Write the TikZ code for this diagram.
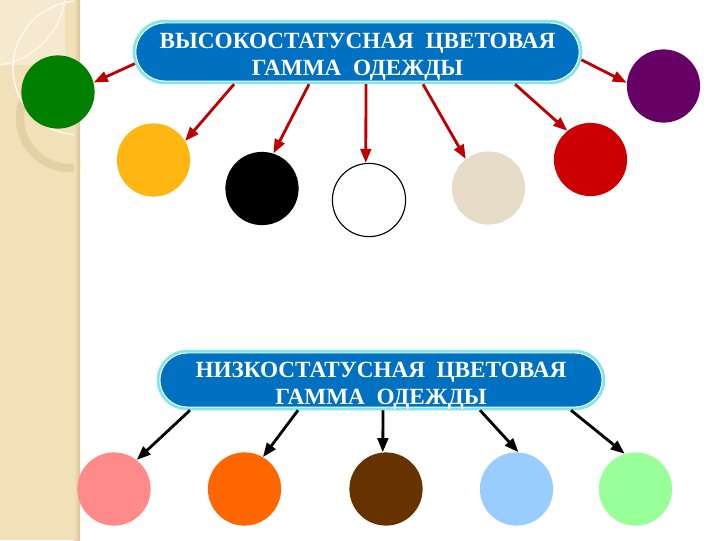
\documentclass[tikz,border=0pt]{standalone}
\usepackage{fontspec}
\setmainfont{Liberation Serif}
\usepackage{tikz}
\usetikzlibrary{arrows.meta,positioning,shapes.misc,calc}
\definecolor{gmblue}{RGB}{0,112,192}
\definecolor{gmcyan}{RGB}{128,230,230}
\definecolor{gmarrow}{RGB}{192,0,0}
\definecolor{gmgreen}{RGB}{0,128,0}
\definecolor{gmamber}{RGB}{255,182,17}
\definecolor{gmbeige}{RGB}{230,220,200}
\definecolor{gmred}{RGB}{204,0,0}
\definecolor{gmpurple}{RGB}{102,0,102}
\definecolor{gmpink}{RGB}{255,138,138}
\definecolor{gmorange}{RGB}{255,102,0}
\definecolor{gmbrown}{RGB}{102,51,0}
\definecolor{gmsky}{RGB}{153,204,255}
\definecolor{gmmint}{RGB}{153,255,153}
\definecolor{gmstrip}{RGB}{241,224,184}
\definecolor{gmstriplight}{RGB}{245,233,208}
\definecolor{gmstripdark}{RGB}{214,196,152}
\definecolor{gmring}{RGB}{226,208,166}
\tikzset{
  banner/.style={rounded rectangle, fill=gmblue, draw=white, line width=0.7pt,
    preaction={draw=gmcyan, line width=4.6pt}, outer sep=2.3pt, inner sep=0pt},
  bannertext/.style={text=white, align=center, inner sep=0pt,
    font=\fontsize{16.5}{19.5}\selectfont\bfseries},
  swatch/.style={circle, minimum size=1.83cm, inner sep=0pt},
  hiarrow/.style={-{Triangle[length=10pt,width=7.5pt]}, line width=2pt, gmarrow},
  loarrow/.style={-{Triangle[length=10pt,width=7.5pt]}, line width=2pt, black}
}
\begin{document}
\begin{tikzpicture}[x=0.025cm, y=-0.025cm]
  \useasboundingbox (0,0) rectangle (720,540);

  %% Left strip
  \fill[gmstrip] (0,0) rectangle (80,540);
  \begin{scope}
    \clip (0,0) rectangle (80,540);
    \fill[gmstriplight] (0,0) rectangle (65,65);
    \draw[gmring, line width=6pt] (70,118) circle (50);
    \draw[white!75!gmstrip, line width=1.2pt] (80,68) circle (67);
    \draw[white!75!gmstrip, line width=1pt] (-12,-12) circle (78);
    \shade[left color=gmstrip, right color=gmstripdark] (74,0) rectangle (80,540);
  \end{scope}

  %% Banners
  \node[banner, minimum width=11.08cm, minimum height=1.45cm] (hi) at (357.5,52) {};
  \node[bannertext] (hitext) at ($(hi.center)+(0,5)$)
    {ВЫСОКОСТАТУСНАЯ\ \ ЦВЕТОВАЯ\\ГАММА\ \ ОДЕЖДЫ};
  \node[banner, minimum width=11.05cm, minimum height=1.35cm] (lo) at (381,380) {};
  \node[bannertext] (lotext) at ($(lo.center)+(0,5.5)$)
    {НИЗКОСТАТУСНАЯ\ \ ЦВЕТОВАЯ\\ГАММА\ \ ОДЕЖДЫ};

  %% High status colours
  \node[swatch, fill=gmgreen] (green) at (58,92) {};
  \node[swatch, fill=gmamber] (amber) at (153.5,160) {};
  \node[swatch, fill=black] (black) at (262,188.5) {};
  \node[swatch, fill=white, draw=black, line width=0.8pt] (white) at (369,200) {};
  \node[swatch, fill=gmbeige] (beige) at (488.5,188) {};
  \node[swatch, fill=gmred] (red) at (590.5,159.5) {};
  \node[swatch, fill=gmpurple] (purple) at (663.5,86) {};

  \draw[hiarrow] (hi.183) -- (green.15);
  \draw[hiarrow] ($(hi.south)+(-123.5,0)$) -- (amber.31);
  \draw[hiarrow] ($(hi.south)+(-48.5,0)$) -- (black.72);
  \draw[hiarrow] ($(hi.south)+(8.5,0)$) -- (white.95);
  \draw[hiarrow] ($(hi.south)+(65.5,0)$) -- (beige.128);
  \draw[hiarrow] ($(hi.south)+(157.5,0)$) -- (red.129);
  \draw[hiarrow] (hi.358) -- (purple.175);

  %% Low status colours
  \node[swatch, fill=gmpink] (pink) at (114,489) {};
  \node[swatch, fill=gmorange] (orange) at (244.5,489) {};
  \node[swatch, fill=gmbrown] (brown) at (386,489) {};
  \node[swatch, fill=gmsky] (sky) at (516.5,489) {};
  \node[swatch, fill=gmmint] (mint) at (635.5,489) {};

  \draw[loarrow] ($(lo.south)+(-191,0)$) -- (pink.52);
  \draw[loarrow] ($(lo.south)+(-83,0)$) -- (orange.60);
  \draw[loarrow] ($(lo.south)+(2,0)$) -- (brown.95);
  \draw[loarrow] ($(lo.south)+(99,0)$) -- (sky.87);
  \draw[loarrow] ($(lo.south)+(190,0)$) -- (mint.107);
\end{tikzpicture}
\end{document}
